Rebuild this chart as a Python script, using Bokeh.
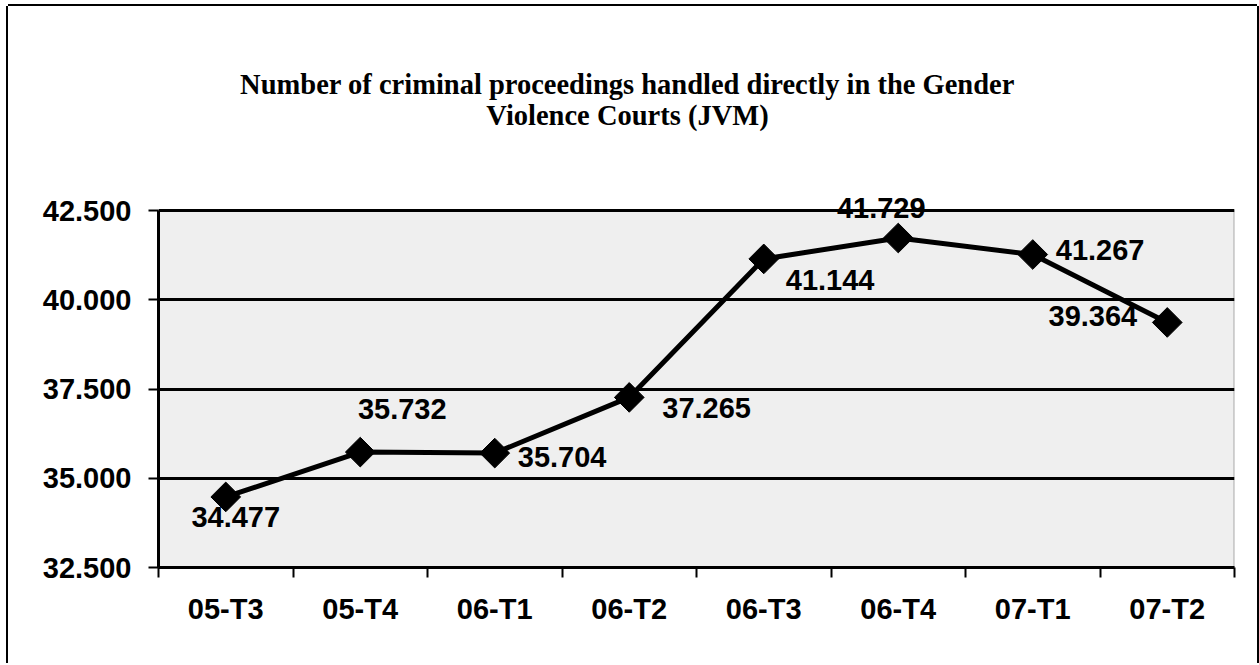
from bokeh.plotting import figure
from bokeh.models import ColumnDataSource, FixedTicker, Range1d, Label, BoxAnnotation
from bokeh.core.properties import value
from bokeh.embed import file_html
from bokeh.resources import INLINE
import math

# ---- data ----
categories = ["05-T3", "05-T4", "06-T1", "06-T2", "06-T3", "06-T4", "07-T1", "07-T2"]
proceedings = [34477, 35732, 35704, 37265, 41144, 41729, 41267, 39364]
y_ticks = [32500, 35000, 37500, 40000, 42500]
title_lines = ["Number of criminal proceedings handled directly in the Gender",
               "Violence Courts (JVM)"]

# label styling (screen offsets / alignment per point)
lab_dx = [10, 42, 23, 33, 22, -17, 23, -30]
lab_dy = [20, -43, 4, 11, 21, -30, -5, -6]
lab_align = ["center", "center", "left", "left", "left", "center", "left", "right"]

def fmt(v):
    return f"{v:,}".replace(",", ".")

xs = [i + 0.5 for i in range(len(categories))]
src = ColumnDataSource(dict(
    x=xs, y=proceedings, lab=[fmt(v) for v in proceedings],
    dx=lab_dx, dy=lab_dy, al=lab_align,
))

# ---- pixel geometry (page coordinates) ----
FIG_X, FIG_Y = 8, 6
PLOT_L, PLOT_R, PLOT_T, PLOT_B = 158, 1234, 210, 567   # shaded plot area
FRAME_T = 16                                            # frame extends up to hold the title
W, H = 1249, 657
ppu = (PLOT_B - PLOT_T) / (y_ticks[-1] - y_ticks[0])    # pixels per unit
y_end = y_ticks[0] + (PLOT_B - FRAME_T) / ppu
ppx = (PLOT_R - PLOT_L) / len(categories)

p = figure(width=W, height=H, output_backend="svg", toolbar_location=None,
           x_range=Range1d(0, len(categories)), y_range=Range1d(y_ticks[0], y_end),
           min_border_left=PLOT_L - FIG_X, min_border_top=FRAME_T - FIG_Y,
           min_border_right=FIG_X + W - PLOT_R, min_border_bottom=FIG_Y + H - PLOT_B)
p.margin = (FIG_Y, 0, 0, FIG_X)
p.styles = {"box-shadow": "0 -2px 0 0 black, -2px 0 0 0 black, 2px 0 0 0 black"}

p.background_fill_color = "white"
p.border_fill_color = "white"
p.outline_line_color = None

# shaded plot area with border (only up to the top tick)
p.add_layout(BoxAnnotation(bottom=y_ticks[0], top=y_ticks[-1], fill_color="#efefef", fill_alpha=1,
                           line_color="black", line_width=2, level="image"))

# grid
p.xgrid.grid_line_color = None
p.ygrid.grid_line_color = "black"
p.ygrid.grid_line_width = 3

# x axis
xa = p.xaxis[0]
xa.ticker = FixedTicker(ticks=xs, minor_ticks=list(range(len(categories) + 1)))
xa.major_label_overrides = {x: c for x, c in zip(xs, categories)}
xa.major_tick_line_color = None
xa.minor_tick_line_color = "black"
xa.minor_tick_line_width = 2
xa.minor_tick_out = 10
xa.minor_tick_in = 0
xa.axis_line_color = "black"
xa.axis_line_width = 3
xa.major_label_standoff = 15
xa.major_label_text_font = "Liberation Sans"
xa.major_label_text_font_style = "bold"
xa.major_label_text_font_size = "29px"
xa.major_label_text_color = "black"

# y axis
ya = p.yaxis[0]
ya.ticker = FixedTicker(ticks=y_ticks)
ya.bounds = (y_ticks[0], y_ticks[-1])
ya.major_label_overrides = {t: fmt(t) for t in y_ticks}
ya.minor_tick_line_color = None
ya.major_tick_line_color = "black"
ya.major_tick_line_width = 2
ya.major_tick_out = 10
ya.major_tick_in = 0
ya.axis_line_color = "black"
ya.axis_line_width = 3
ya.major_label_standoff = 17
ya.major_label_text_font = "Liberation Sans"
ya.major_label_text_font_style = "bold"
ya.major_label_text_font_size = "29px"
ya.major_label_text_color = "black"

# series
p.line("x", "y", source=src, line_color="black", line_width=5)
p.scatter("x", "y", source=src, marker="square", angle=math.pi / 4, size=21,
          fill_color="black", line_color="black")
p.text("x", "y", text="lab", source=src, x_offset="dx", y_offset="dy",
       text_align="al", text_baseline="middle",
       text_font=value("Liberation Sans"), text_font_style="bold",
       text_font_size="29px", text_color="black")

# title: two centred lines, centred on page x 627
for line, base in zip(title_lines, [84, 115]):
    p.add_layout(Label(x=(627 - PLOT_L) / ppx, y=y_ticks[0] + (PLOT_B - base) / ppu,
                       text=line, text_align="center", text_baseline="alphabetic",
                       text_font="Liberation Serif", text_font_style="bold",
                       text_font_size="28.5px", text_color="black"))

open("out.html", "w").write(file_html(p, INLINE))
